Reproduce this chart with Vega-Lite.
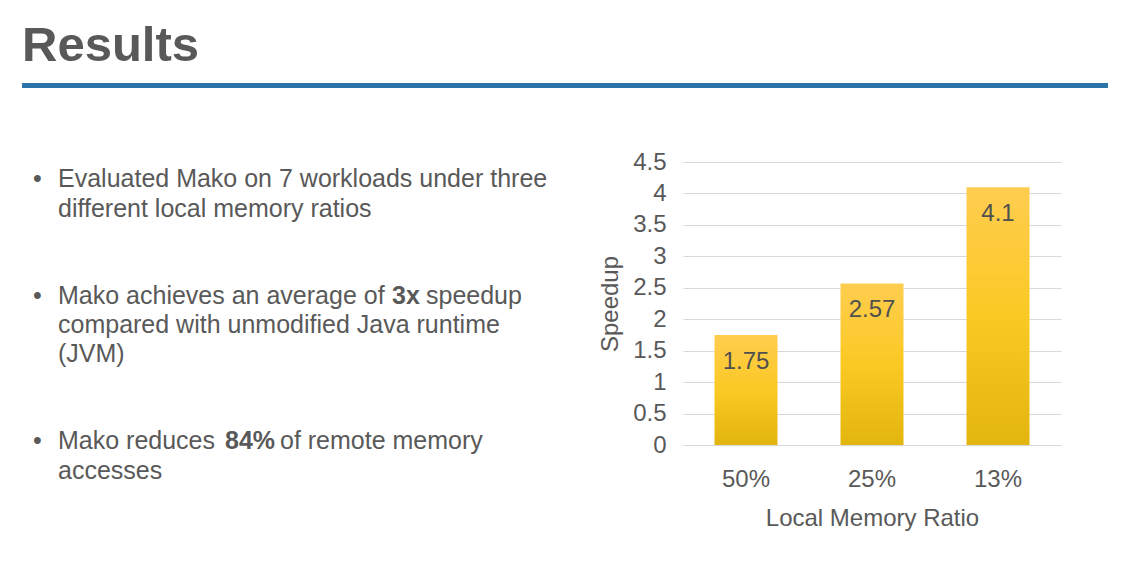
{
  "$schema": "https://vega.github.io/schema/vega-lite/v6.json",
  "padding": {"left": 22, "top": 22, "right": 10, "bottom": 10},
  "background": "white",
  "config": {
    "font": "Liberation Sans",
    "view": {"stroke": null},
    "concat": {"spacing": 0}
  },
  "vconcat": [
    {
      "width": 1086,
      "height": 5,
      "title": {
        "text": "Results",
        "anchor": "start",
        "fontSize": 49,
        "fontWeight": "bold",
        "color": "#595959",
        "font": "Liberation Sans",
        "baseline": "alphabetic",
        "offset": -27
      },
      "data": {"values": [{"part": "rule"}]},
      "mark": {"type": "rect", "color": "#2A74A9"},
      "encoding": {}
    },
    {
      "hconcat": [
        {
          "width": 560,
          "height": 326,
          "data": {
            "values": [
              {"slot": 0, "bullet": "•", "pre": "Evaluated Mako on 7 workloads under three", "bold": "", "post": ""},
              {"slot": 1, "bullet": "", "pre": "different local memory ratios", "bold": "", "post": ""},
              {"slot": 4, "bullet": "•", "pre": "Mako achieves an average of", "bold": "3x", "post": "speedup"},
              {"slot": 5, "bullet": "", "pre": "compared with unmodified Java runtime", "bold": "", "post": ""},
              {"slot": 6, "bullet": "", "pre": "(JVM)", "bold": "", "post": ""},
              {"slot": 9, "bullet": "•", "pre": "Mako reduces", "bold": "84%", "post": "of remote memory"},
              {"slot": 10, "bullet": "", "pre": "accesses", "bold": "", "post": ""}
            ]
          },
          "encoding": {
            "x": {"datum": 0, "type": "quantitative", "scale": {"domain": [0, 1]}, "axis": null},
            "y": {"field": "slot", "type": "quantitative", "scale": {"domain": [-0.6, 10.6], "reverse": true, "nice": false, "zero": false}, "axis": null}
          },
          "layer": [
            {
              "mark": {"type": "text", "align": "left", "baseline": "middle", "fontSize": 25, "color": "#595959", "dx": 11},
              "encoding": {"text": {"field": "bullet"}}
            },
            {
              "mark": {"type": "text", "align": "left", "baseline": "middle", "fontSize": 25, "color": "#595959", "dx": 36},
              "encoding": {"text": {"field": "pre"}}
            },
            {
              "transform": [{"filter": "datum.slot == 4"}],
              "layer": [
                {
                  "mark": {"type": "text", "align": "left", "baseline": "middle", "fontSize": 25, "fontWeight": "bold", "color": "#595959", "dx": 370},
                  "encoding": {"text": {"field": "bold"}}
                },
                {
                  "mark": {"type": "text", "align": "left", "baseline": "middle", "fontSize": 25, "color": "#595959", "dx": 404},
                  "encoding": {"text": {"field": "post"}}
                }
              ]
            },
            {
              "transform": [{"filter": "datum.slot == 9"}],
              "layer": [
                {
                  "mark": {"type": "text", "align": "left", "baseline": "middle", "fontSize": 25, "fontWeight": "bold", "color": "#595959", "dx": 203},
                  "encoding": {"text": {"field": "bold"}}
                },
                {
                  "mark": {"type": "text", "align": "left", "baseline": "middle", "fontSize": 25, "color": "#595959", "dx": 258},
                  "encoding": {"text": {"field": "post"}}
                }
              ]
            }
          ]
        },
        {
          "width": 378,
          "height": 283,
          "data": {
            "values": [
              {"ratio": "50%", "speedup": 1.75},
              {"ratio": "25%", "speedup": 2.57},
              {"ratio": "13%", "speedup": 4.1}
            ]
          },
          "encoding": {
            "x": {
              "field": "ratio", "type": "nominal", "sort": null,
              "scale": {"paddingInner": 0.5, "paddingOuter": 0.25},
              "axis": {
                "title": "Local Memory Ratio", "labelAngle": 0, "domain": false, "ticks": false, "tickSize": 0,
                "labelPadding": 22, "labelFontSize": 24, "labelColor": "#595959",
                "titleFontSize": 24, "titleFontWeight": "normal", "titleColor": "#595959", "titlePadding": 15
              }
            },
            "y": {
              "field": "speedup", "type": "quantitative",
              "scale": {"domain": [0, 4.5], "nice": false},
              "axis": {
                "title": "Speedup", "values": [0, 0.5, 1, 1.5, 2, 2.5, 3, 3.5, 4, 4.5], "format": "~g",
                "domain": false, "ticks": false, "tickSize": 0, "grid": true, "gridColor": "#D9D9D9", "gridWidth": 1.2,
                "labelPadding": 17, "labelFontSize": 24, "labelColor": "#595959",
                "titleFontSize": 24, "titleFontWeight": "normal", "titleColor": "#595959", "titlePadding": 10
              }
            }
          },
          "layer": [
            {
              "mark": {
                "type": "bar",
                "color": {
                  "gradient": "linear", "x1": 0, "y1": 0, "x2": 0, "y2": 1,
                  "stops": [
                    {"offset": 0, "color": "#FFCD4F"},
                    {"offset": 0.5, "color": "#FBC923"},
                    {"offset": 1, "color": "#E3B50F"}
                  ]
                }
              }
            },
            {
              "mark": {"type": "text", "baseline": "middle", "dy": 27, "fontSize": 24, "color": "#505050"},
              "encoding": {"text": {"field": "speedup", "type": "quantitative", "format": "~g"}}
            }
          ]
        }
      ],
      "spacing": 101,
      "bounds": "flush"
    }
  ],
  "spacing": 74,
  "bounds": "flush"
}
